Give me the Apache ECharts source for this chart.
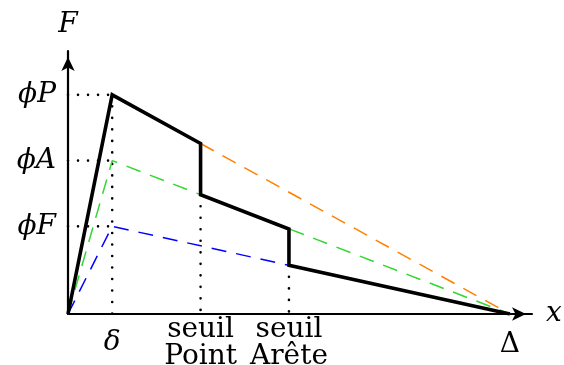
<!DOCTYPE html>
<html>
<head>
<meta charset="utf-8">
<script src="https://cdn.jsdelivr.net/npm/echarts@6/dist/echarts.min.js"></script>
<style>
html,body{margin:0;padding:0;background:#fff;}
#c{width:564px;height:365px;}
</style>
</head>
<body>
<div id="c"></div>
<script>
// x tick positions and their labels
const xTicks = [1, 3, 5, 10];
const xTickLabels = ['δ', 'seuil\nPoint', 'seuil\nArête', 'Δ'];
// y tick positions and their labels
const yTicks = [2, 3.5, 5];
const yTickLabels = ['ϕF', 'ϕA', 'ϕP'];

// black force curve
const forceX = [0, 1, 3, 3, 5, 5, 10];
const forceY = [0, 5, 3.89, 2.72, 1.94, 1.11, 0];
// orange dashed
const orangeX = [3, 10];
const orangeY = [3.89, 0];
// green dashed
const greenX = [0, 1, 10];
const greenY = [0, 3.5, 0];
// blue dashed
const blueX = [0, 1, 10];
const blueY = [0, 2, 0];

// dotted guides (x, y pairs of segment ends)
const guideHX = [[0, 1], [0, 1], [0, 1]];
const guideHY = [[5, 5], [3.5, 3.5], [2, 2]];
const guideVX = [[1, 1], [3, 3], [5, 5]];
const guideVY = [[5, 0], [2.72, 0], [1.11, 0]];

const zip = (xs, ys) => xs.map((x, i) => [x, ys[i]]);

const FONT = 'DejaVu Serif';

const dotH = {color: '#000', width: 2.6, type: [0.01, 10], cap: 'round'};
const dotV = {color: '#000', width: 2.6, type: [0.01, 11.5], cap: 'round'};
const dash = [15, 10];
const series = [];
guideHX.forEach((xs, i) => series.push({type: 'line', data: zip(xs, guideHY[i]), lineStyle: dotH}));
guideVX.forEach((xs, i) => series.push({type: 'line', data: zip(xs, guideVY[i]), lineStyle: dotV}));
series.push({type: 'line', data: zip(blueX, blueY), lineStyle: {color: '#0000ff', width: 1.5, type: dash}});
series.push({type: 'line', data: zip(greenX, greenY), lineStyle: {color: '#33d633', width: 1.5, type: dash}});
series.push({type: 'line', data: zip(orangeX, orangeY), lineStyle: {color: '#ff8000', width: 1.5, type: dash}});
series.push({type: 'line', data: zip(forceX, forceY), lineStyle: {color: '#000', width: 3.6, join: 'miter', cap: 'butt'}});
series.forEach(s => { s.symbol = 'none'; s.silent = true; s.animation = false; });

const chart = echarts.init(document.getElementById('c'));
chart.setOption({
  animation: false,
  backgroundColor: '#fff',
  grid: {left: 68, top: 51, width: 464, height: 263, containLabel: false, outerBoundsMode: 'none'},
  xAxis: {
    type: 'value', min: 0, max: 10.5,
    splitLine: {show: false},
    axisTick: {show: false},
    axisLine: {show: true, lineStyle: {color: '#000', width: 2.2}, symbol: ['none', 'arrow'], symbolSize: [10, 14], symbolOffset: [0, -6]},
    name: 'x', nameLocation: 'end', nameGap: 14,
    nameTextStyle: {fontFamily: FONT, fontStyle: 'italic', fontSize: 28, color: '#000', verticalAlign: 'middle', padding: [9, 0, 0, 0]},
    axisLabel: {
      customValues: xTicks,
      margin: 2,
      formatter: v => {
        const i = xTicks.indexOf(v);
        const t = xTickLabels[i];
        if (t.indexOf('\n') >= 0) return t.split('\n').map(s => '{t|' + s + '}').join('\n');
        return i === 0 ? '{g|' + t + '}' : '{d|' + t + '}';
      },
      rich: {
        t: {fontFamily: FONT, fontSize: 28, lineHeight: 27, color: '#000'},
        g: {fontFamily: FONT, fontSize: 28, fontStyle: 'italic', lineHeight: 54, color: '#000'},
        d: {fontFamily: FONT, fontSize: 28, lineHeight: 58, color: '#000'}
      }
    }
  },
  yAxis: {
    type: 'value', min: 0, max: 6,
    splitLine: {show: false},
    axisTick: {show: false},
    axisLine: {show: true, lineStyle: {color: '#000', width: 2.2}, symbol: ['none', 'arrow'], symbolSize: [10, 14], symbolOffset: [0, -6]},
    name: 'F', nameLocation: 'end', nameGap: 12,
    nameTextStyle: {fontFamily: FONT, fontStyle: 'italic', fontSize: 28, color: '#000', align: 'center'},
    axisLabel: {
      customValues: yTicks,
      margin: 12,
      formatter: v => yTickLabels[yTicks.indexOf(v)],
      fontFamily: FONT, fontStyle: 'italic', fontSize: 28, color: '#000'
    }
  },
  series: series
});
</script>
</body>
</html>
